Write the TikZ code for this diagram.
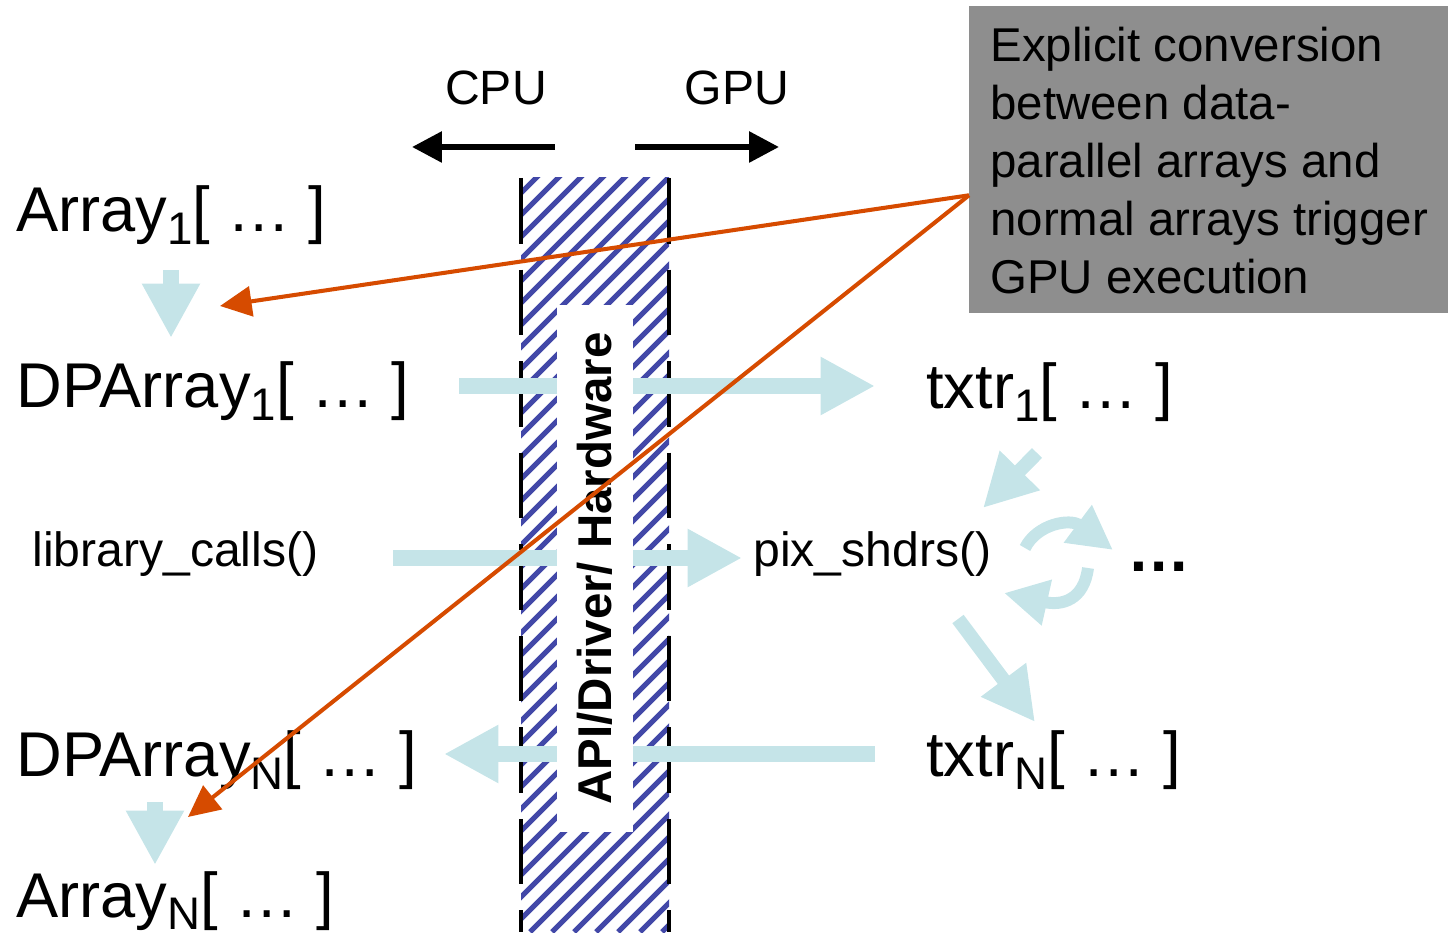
\documentclass[tikz,border=0pt]{standalone}
\usepackage{fontspec}
\setmainfont{Liberation Sans}
\usetikzlibrary{arrows.meta}
\definecolor{flowblue}{RGB}{197,228,232}
\definecolor{hatchblue}{RGB}{66,72,168}
\definecolor{notegray}{RGB}{142,142,142}
\definecolor{hintorange}{RGB}{214,75,0}
\newcommand{\lowidx}[1]{\raisebox{-7pt}{\fontsize{26}{26}\selectfont #1}}
\tikzset{
  bigtext/.style={font=\fontsize{36}{40}\selectfont, inner sep=0pt, anchor=base west},
  midtext/.style={font=\fontsize{27.4}{33}\selectfont, inner sep=0pt, anchor=base west},
  flow/.style={draw=flowblue, line width=9pt, -{Triangle[length=31pt,width=31pt]}},
  diagflow/.style={draw=flowblue, line width=8pt, -{Triangle[length=30pt,width=30pt]}},
  loopflow/.style={draw=flowblue, line width=6.8pt, -{Triangle[length=25pt,width=25pt]}},
  side/.style={draw=black, line width=3.4pt, -{Triangle[length=17pt,width=17pt]}},
  hatch/.style={draw=hatchblue, line width=3pt},
  wall/.style={draw=black, line width=2.3pt, dash pattern=on 37.4pt off 14.7pt},
  hint/.style={draw=hintorange, line width=2.3pt, -{Triangle[length=18pt,width=17pt]}},
}

\begin{document}
\begin{tikzpicture}[x=0.02cm,y=-0.02cm]
\useasboundingbox (0,0) rectangle (1448,935);

% driver band
\begin{scope}
\clip (521,178) rectangle (669,932);
\foreach \k in {-240,-218,...,680}
  \draw[hatch] (\k,932) -- ++(760,-760);
\end{scope}
\draw[wall] (521,178) -- (521,932);
\draw[wall] (669,178) -- (669,932);

% CPU / GPU
\node[midtext, anchor=base] (cpu) at (496,105) {CPU};
\node[midtext, anchor=base] (gpu) at (737,105) {GPU};
\coordinate (cpu start) at (555,147);
\coordinate (cpu end) at (412,147);
\coordinate (gpu start) at (635,147);
\coordinate (gpu end) at (779,147);
\draw[side] (cpu start) -- (cpu end);
\draw[side] (gpu start) -- (gpu end);

% arrays and shaders
\node[bigtext] (arr1) at (16,232) {Array\lowidx{1}[ … ]};
\node[bigtext] (dp1) at (16,408) {DPArray\lowidx{1}[ … ]};
\node[midtext] (lib) at (32,567) {library\_calls()};
\node[bigtext] (dpn) at (16,777) {DPArray\lowidx{N}[ … ]};
\node[bigtext] (arrn) at (16,917) {Array\lowidx{N}[ … ]};
\node[bigtext] (tx1) at (926,409) {txtr\lowidx{1}[ … ]};
\node[bigtext] (txn) at (926,777) {txtr\lowidx{N}[ … ]};
\node[midtext] (pix) at (753,567) {pix\_shdrs()};
\node[bigtext] (more) at (1127,572) {\bfseries …};

% flow ends
\coordinate (arr1 out) at (171,270);
\coordinate (dp1 in) at (171,338);
\coordinate (dp1 out) at (459,386);
\coordinate (tx1 in) at (875,386);
\coordinate (lib out) at (393,558);
\coordinate (pix in) at (742,558);
\coordinate (txn out) at (875,754);
\coordinate (dpn in) at (444,754);
\coordinate (dpn out) at (155,802);
\coordinate (arrn in) at (155,865);
\coordinate (tx1 down) at (1037,453);
\coordinate (pix top) at (983,508);
\coordinate (pix low) at (958,619);
\coordinate (txn top) at (1035,722);
\coordinate (loop a) at (1025,548);
\coordinate (loop b) at (1113,550);
\coordinate (loop c) at (1088,568);
\coordinate (loop d) at (1004,593);

\draw[flow] (arr1 out) -- (dp1 in);
\draw[flow] (dp1 out) -- (tx1 in);
\draw[flow] (lib out) -- (pix in);
\draw[flow] (txn out) -- (dpn in);
\draw[flow] (dpn out) -- (arrn in);
\draw[diagflow] (tx1 down) -- (pix top);
\draw[diagflow] (pix low) -- (txn top);
\draw[loopflow] (loop a) .. controls (1037,524) and (1070,518) .. (loop b);
\draw[loopflow] (loop c) .. controls (1084,600) and (1062,606) .. (loop d);

% driver label
\node[fill=white, rotate=90, minimum width=10.54cm, minimum height=1.52cm, inner sep=0pt,
  font=\bfseries\fontsize{27}{33}\selectfont] (api) at (595,568.5) {API/Driver/ Hardware};

% note
\node[fill=notegray, anchor=north west, minimum width=9.58cm, minimum height=6.14cm,
  inner sep=0pt] (notebox) at (969,6) {};
\node[midtext, font=\fontsize{27}{33}\selectfont, anchor=north west, align=left] (note) at (990,27)
  {Explicit conversion\\between data-\\parallel arrays and\\normal arrays trigger\\GPU execution};
\coordinate (hint a) at (220,306);
\coordinate (hint b) at (188,817);
\draw[hint] ([yshift=-0.71cm]notebox.west) -- (hint a);
\draw[hint] ([yshift=-0.71cm]notebox.west) -- (hint b);
\end{tikzpicture}
\end{document}
